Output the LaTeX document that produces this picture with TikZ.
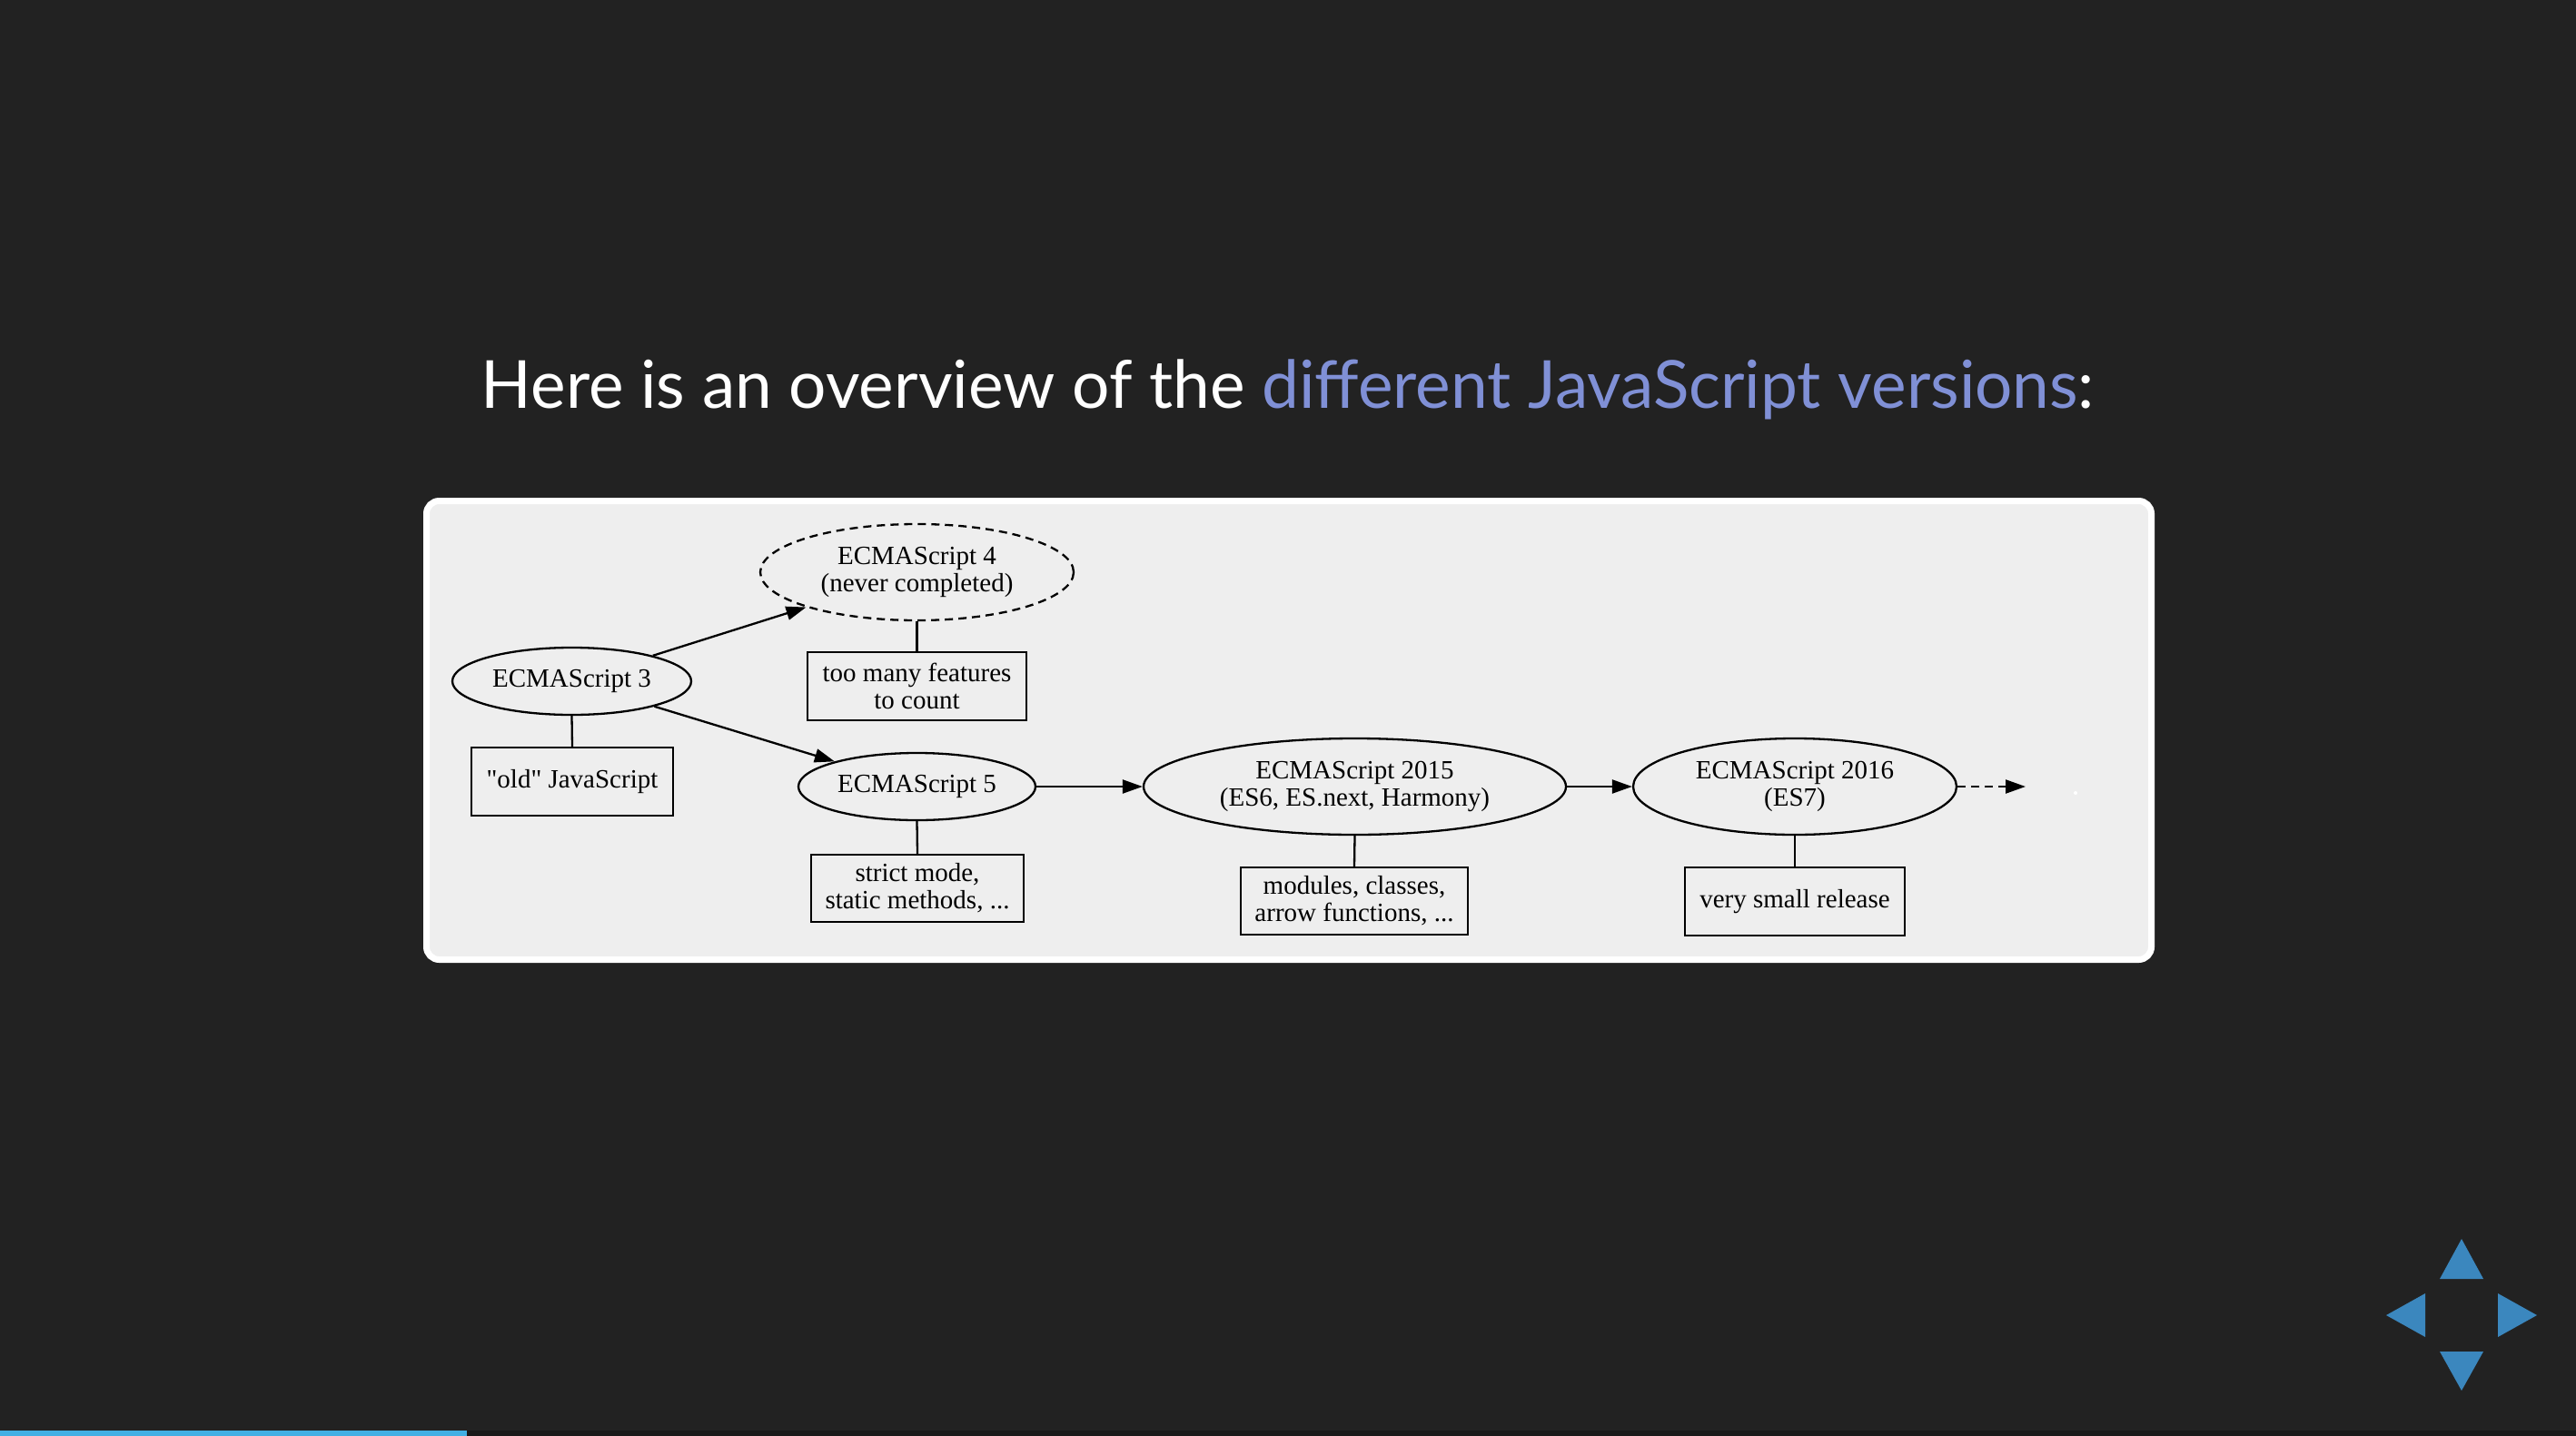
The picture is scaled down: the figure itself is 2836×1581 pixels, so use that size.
\documentclass[tikz,border=0pt]{standalone}
\usepackage{graphicx}
\usepackage{fontspec}
\setmainfont{Liberation Serif}[Ligatures=TeXOff]
\newfontfamily\titlefont{Lato}
\usetikzlibrary{shapes.geometric,arrows.meta}
\definecolor{bg}{HTML}{222222}
\definecolor{panelfill}{HTML}{EEEEEE}
\definecolor{hl}{RGB}{128,144,214}
\definecolor{navblue}{RGB}{59,135,190}
\definecolor{barblue}{RGB}{66,175,227}
\definecolor{track}{HTML}{191919}
\begin{document}
\begin{tikzpicture}[x=1pt,y=-1pt,
  txtfont/.style={font=\fontsize{29}{30}\selectfont},
  ver/.style={ellipse,draw=black,line width=2.3pt,inner sep=0pt,align=center,txtfont},
  notebox/.style={rectangle,draw=black,line width=2.3pt,inner sep=0pt,align=center,txtfont},
  link/.style={draw=black,line width=2.3pt},
  flow/.style={draw=black,line width=2.3pt,-{Triangle[length=22pt,width=15pt]}},
  navtri/.style={fill=navblue}
]
\useasboundingbox (0,0) rectangle (2836,1581);
\fill[bg] (0,0) rectangle (2836,1581);

% title
\node[anchor=base,inner sep=0pt,text=white] (title) at (1418,449)
  {\resizebox{1776pt}{!}{\titlefont Here is an overview of the \textcolor{hl}{different JavaScript versions}:}};

% panel
\draw[fill=panelfill,draw=white,line width=7pt,rounded corners=14pt] (469.5,551.5) rectangle (2368.5,1056.5);

% nodes
\node[ver,minimum width=263pt,minimum height=74pt] (es3) at (629.5,750) {ECMAScript 3};
\node[ver,dashed,dash pattern=on 9pt off 6pt,minimum width=345pt,minimum height=106pt] (es4) at (1009.5,630) {ECMAScript 4\\(never completed)};
\node[notebox,minimum width=241pt,minimum height=75pt] (many) at (1009.5,755.5) {too many features\\to count};
\node[notebox,minimum width=222pt,minimum height=75pt] (old) at (630,860.5) {"old" JavaScript};
\node[ver,minimum width=261pt,minimum height=74pt] (es5) at (1009.5,866) {ECMAScript 5};
\node[notebox,minimum width=234pt,minimum height=74pt] (strict) at (1010,978) {strict mode,\\static methods, ...};
\node[ver,minimum width=465pt,minimum height=106pt] (es15) at (1491.5,866) {ECMAScript 2015\\(ES6, ES.next, Harmony)};
\node[notebox,minimum width=250pt,minimum height=74pt] (modules) at (1491,992) {modules, classes,\\arrow functions, ...};
\node[ver,minimum width=356pt,minimum height=106pt] (es16) at (1976,866) {ECMAScript 2016\\(ES7)};
\node[notebox,minimum width=242pt,minimum height=75pt] (small) at (1976,992.5) {very small release};
\coordinate (nextend) at (2230,866);
\node[circle,fill=white,inner sep=0pt,minimum size=4pt] (dot) at (2285,873) {};

% connectors
\draw[flow] (es3) -- (es4);
\draw[flow] (es3) -- (es5);
\draw[flow] (es5) -- (es15);
\draw[flow] (es15) -- (es16);
\draw[flow,dash pattern=on 9pt off 6pt] (es16.east) -- (nextend);
\draw[link] (es3.south) -- (old.north);
\draw[link] (es4.south) -- (many.north);
\draw[link] (es5.south) -- (strict.north);
\draw[link] (es15.south) -- (modules.north);
\draw[link] (es16.south) -- (small.north);

% navigation
\fill[navtri] (2710,1364) -- (2734,1408) -- (2686,1408) -- cycle;
\fill[navtri] (2686,1488) -- (2734,1488) -- (2710,1531) -- cycle;
\fill[navtri] (2627,1448) -- (2670,1424) -- (2670,1472) -- cycle;
\fill[navtri] (2793,1448) -- (2750,1424) -- (2750,1472) -- cycle;

% progress bar
\fill[track] (0,1575) rectangle (2836,1581);
\fill[barblue] (0,1575) rectangle (514,1581);
\end{tikzpicture}
\end{document}
